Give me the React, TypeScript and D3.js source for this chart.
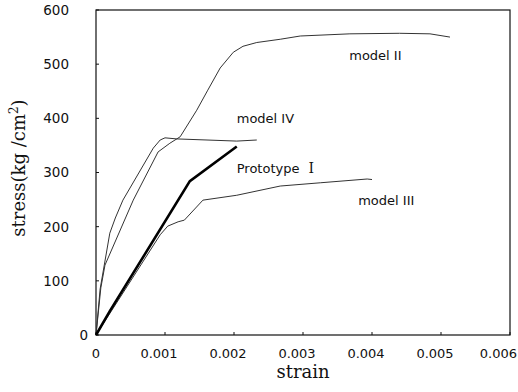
import * as d3 from 'd3'

// strain / stress pairs
const prototypeI: [number, number][] = [
  [0, 0], [0.0002, 44], [0.00136, 284], [0.00204, 348],
]
const modelII: [number, number][] = [
  [0, 0], [0.00007, 87], [0.00013, 129], [0.00054, 249], [0.0009, 338],
  [0.00107, 354], [0.00122, 366], [0.00146, 415], [0.00162, 452],
  [0.0018, 493], [0.00199, 522], [0.00213, 533], [0.00233, 540],
  [0.00267, 546], [0.00296, 552], [0.00368, 556], [0.0044, 557],
  [0.00484, 556], [0.00513, 550],
]
const modelIII: [number, number][] = [
  [0, 0], [0.00093, 185], [0.00104, 201], [0.00119, 209], [0.00128, 212],
  [0.00155, 249], [0.00204, 258], [0.00267, 275], [0.00325, 281],
  [0.00393, 288], [0.004, 287],
]
const modelIV: [number, number][] = [
  [0, 0], [0.00006, 85], [0.0002, 188], [0.00028, 216], [0.00039, 249],
  [0.00083, 345], [0.00093, 360], [0.001, 364], [0.00117, 362],
  [0.00204, 358], [0.00233, 360],
]

const xTicks = [0, 0.001, 0.002, 0.003, 0.004, 0.005, 0.006]
const yTicks = [0, 100, 200, 300, 400, 500, 600]

const labels = [
  { text: 'model II', at: [0.00367, 508] },
  { text: 'model IV', at: [0.00204, 391] },
  { text: 'Prototype', roman: 'I', at: [0.00204, 299] },
  { text: 'model III', at: [0.0038, 240] },
]

export default function App() {
  const width = 518
  const height = 392
  const margin = { top: 10, right: 8, bottom: 57, left: 96 }

  const x = d3.scaleLinear().domain([0, 0.006]).range([margin.left, width - margin.right])
  const y = d3.scaleLinear().domain([0, 600]).range([height - margin.bottom, margin.top])

  const line = d3.line<[number, number]>()
    .x(d => x(d[0]))
    .y(d => y(d[1]))

  const sans = 'DejaVu Sans, Verdana, sans-serif'
  const serif = 'DejaVu Serif, Georgia, serif'

  const x0 = margin.left
  const x1 = width - margin.right
  const y0 = height - margin.bottom
  const y1 = margin.top

  return (
    <svg
      width={width}
      height={height}
      style={{ position: 'absolute', left: 0, top: 0, background: '#fff' }}
    >
      {/* frame */}
      <rect x={x0} y={y1} width={x1 - x0} height={y0 - y1} fill="none" stroke="#111" strokeWidth={1.2} />

      {/* y ticks */}
      {yTicks.map(t => (
        <g key={'y' + t}>
          <line x1={x0} x2={x0 + 3} y1={y(t)} y2={y(t)} stroke="#111" />
          <text
            x={t === 0 ? x0 - 8 : x0 - 27}
            y={y(t)}
            dy="0.36em"
            textAnchor="end"
            fontFamily={sans}
            fontSize={13.5}
            fill="#111"
          >
            {t}
          </text>
        </g>
      ))}

      {/* x ticks */}
      {xTicks.map((t, i) => (
        <g key={'x' + t}>
          <line x1={x(t)} x2={x(t)} y1={y0} y2={y0 - 3} stroke="#111" />
          <text
            x={i === xTicks.length - 1 ? width - 1 : t === 0 ? x(t) : x(t) - 6}
            y={y0 + 23}
            textAnchor={i === xTicks.length - 1 ? 'end' : 'middle'}
            fontFamily={sans}
            fontSize={13}
            fill="#111"
          >
            {t === 0 ? '0' : d3.format('.3f')(t)}
          </text>
        </g>
      ))}

      {/* axis titles */}
      <text x={303} y={y0 + 43} textAnchor="middle" fontFamily={serif} fontSize={18} fill="#111">
        strain
      </text>
      <text
        transform={`translate(25, 168) rotate(-90)`}
        textAnchor="middle"
        fontFamily={serif}
        fontSize={18}
        fill="#111"
      >
        stress(kg /cm<tspan dy={-7} fontSize={12}>2</tspan><tspan dy={7}>)</tspan>
      </text>

      {/* curves */}
      <path d={line(modelII) ?? ''} fill="none" stroke="#333" strokeWidth={1} />
      <path d={line(modelIV) ?? ''} fill="none" stroke="#333" strokeWidth={1} />
      <path d={line(modelIII) ?? ''} fill="none" stroke="#333" strokeWidth={1} />
      <path d={line(prototypeI) ?? ''} fill="none" stroke="#000" strokeWidth={2.6} />

      {/* curve labels */}
      {labels.map(l => (
        <text
          key={l.text}
          x={x(l.at[0])}
          y={y(l.at[1])}
          fontFamily={sans}
          fontSize={13}
          fill="#111"
        >
          {l.text}
          {l.roman && (
            <tspan dx={9} fontFamily={serif} fontSize={14}>{l.roman}</tspan>
          )}
        </text>
      ))}
    </svg>
  )
}
